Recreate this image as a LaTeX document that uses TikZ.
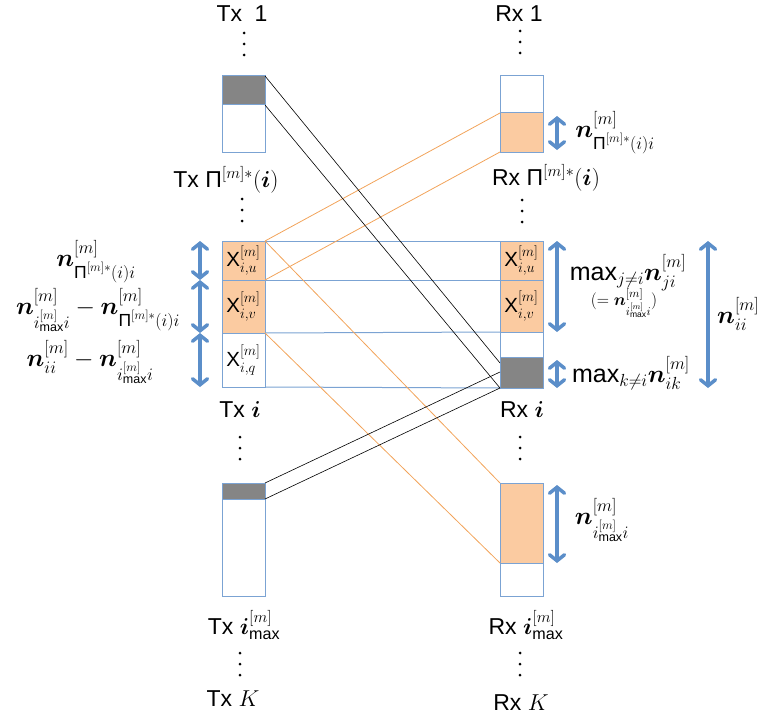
\RequirePackage{fix-cm}
\documentclass[tikz,border=0pt]{standalone}
\usepackage{amsmath,bm}
\usepackage{fontspec}
\setmainfont{Liberation Sans}
\usetikzlibrary{arrows.meta}
\definecolor{bbord}{HTML}{7BA3D3}
\definecolor{barrow}{HTML}{5B8EC9}
\definecolor{peach}{HTML}{FBCBA1}
\definecolor{oline}{HTML}{F2A35A}
\definecolor{gblk}{HTML}{858585}
\tikzset{
  seg/.style={draw=bbord, line width=1pt, inner sep=0pt, outer sep=0pt,
    minimum width=43pt, anchor=north west},
  link/.style={draw=black, line width=0.6pt},
  olink/.style={draw=oline, line width=0.8pt},
  hline/.style={draw=bbord, line width=1pt},
  meas/.style={draw=barrow, line width=3.5pt,
    {Straight Barb[length=6pt,width=15pt,line cap=round]}-{Straight Barb[length=6pt,width=15pt,line cap=round]}},
  lbl/.style={inner sep=0pt, font=\fontsize{23}{26}\selectfont},
  mlbl/.style={inner sep=0pt, font=\fontsize{25}{28}\selectfont},
  small/.style={inner sep=0pt, font=\fontsize{17}{19}\selectfont},
  cell/.style={inner sep=0pt, font=\fontsize{20.5}{22}\selectfont}
}
\newcommand{\vd}[2]{\foreach \dy in {0,11,22}{\fill (#1,#2+\dy) circle (1.5pt);}}
\begin{document}
\begin{tikzpicture}[x=1pt,y=-1pt]
\useasboundingbox (0,0) rectangle (764,717);
% ---- Tx column ----
\node[seg, fill=gblk, minimum height=29pt] (tpg) at (222,76) {};
\node[seg, fill=white, minimum height=47pt] (tpw) at (222,105) {};
\node[seg, fill=peach, minimum height=39pt] (tiu) at (222,241) {};
\node[seg, fill=peach, minimum height=53pt] (tiv) at (222,280) {};
\node[seg, fill=white, minimum height=54pt] (tiq) at (222,333) {};
\node[seg, fill=gblk, minimum height=16pt] (tmg) at (222,483) {};
\node[seg, fill=white, minimum height=97pt] (tmw) at (222,499) {};
% ---- Rx column ----
\node[seg, fill=white, minimum height=37pt] (rpw) at (500,76) {};
\node[seg, fill=peach, minimum height=39pt] (rpo) at (500,113) {};
\node[seg, fill=peach, minimum height=39pt] (riu) at (500,241) {};
\node[seg, fill=peach, minimum height=52pt] (riv) at (500,280) {};
\node[seg, fill=white, minimum height=25pt] (riw) at (500,332) {};
\node[seg, fill=gblk, minimum height=31pt] (rig) at (500,357) {};
\node[seg, fill=peach, minimum height=80pt] (rmo) at (500,483) {};
\node[seg, fill=white, minimum height=33pt] (rmw) at (500,563) {};
% ---- horizontal frame lines ----
\draw[hline] (tiu.north east) -- (riu.north west);
\draw[hline] (tiu.south east) -- (riu.south west);
\draw[hline] (tiv.south east) -- (riv.south west);
\draw[hline] (tiq.south east) -- (rig.south west);
% ---- orange links ----
\draw[olink] (tiu.north east) -- (rpo.north west);
\draw[olink] (tiu.south east) -- (rpo.south west);
\draw[olink] (tiu.north east) -- (rmo.north west);
\draw[olink] (tiv.south east) -- (rmo.south west);
% ---- black links ----
\draw[link] (tpg.north east) -- ([yshift=-6pt]rig.north west);
\draw[link] (tpg.south east) -- (rig.south west);
\draw[link] (tmg.north east) -- ([yshift=-15pt]rig.north west);
\draw[link] (tmg.south east) -- (rig.south west);
% ---- cell labels ----
\node[cell] (xtu) at (tiu.center) {$\text{X}^{[m]}_{i,u}$};
\node[cell] (xtv) at (tiv.center) {$\text{X}^{[m]}_{i,v}$};
\node[cell] (xtq) at (tiq.center) {$\text{X}^{[m]}_{i,q}$};
\node[cell] (xru) at (riu.center) {$\text{X}^{[m]}_{i,u}$};
\node[cell] (xrv) at (riv.center) {$\text{X}^{[m]}_{i,v}$};
% ---- measurement arrows ----
\draw[meas] ([xshift=-22pt]tiu.north west) -- ([xshift=-22pt]tiu.south west);
\draw[meas] ([xshift=-22pt]tiv.north west) -- ([xshift=-22pt]tiv.south west);
\draw[meas] ([xshift=-22pt]tiq.north west) -- ([xshift=-22pt]tiq.south west);
\draw[meas] ([xshift=14pt,yshift=-3pt]rpo.north east) -- ([xshift=14pt,yshift=2pt]rpo.south east);
\draw[meas] ([xshift=14pt]riu.north east) -- ([xshift=14pt]riv.south east);
\draw[meas] ([xshift=14pt,yshift=-3pt]rig.north east) -- ([xshift=14pt]rig.south east);
\draw[meas] ([xshift=165pt]riu.north east) -- ([xshift=165pt]rig.south east);
\draw[meas] ([xshift=14pt,yshift=-2pt]rmo.north east) -- ([xshift=14pt]rmo.south east);
% ---- column labels ----
\node[lbl] (ltx1) at (242,14) {Tx\hspace{0.55em}1};
\node[lbl] (lrx1) at (519,14) {Rx 1};
\node[lbl] (ltxp) at (226,180) {Tx Π$^{[m]*}(\bm{i})$};
\node[lbl] (lrxp) at (546,178) {Rx Π$^{[m]*}(\bm{i})$};
\node[lbl] (ltxi) at (240,410) {Tx $\bm{i}$};
\node[lbl] (lrxi) at (522,410) {Rx $\bm{i}$};
\node[lbl] (ltxm) at (244,625) {Tx $\bm{i}^{[m]}_{\text{max}}$};
\node[lbl] (lrxm) at (526,625) {Rx $\bm{i}^{[m]}_{\text{max}}$};
\node[lbl] (ltxk) at (233,699) {Tx $K$};
\node[lbl] (lrxk) at (521,703) {Rx $K$};
\vd{244}{33}
\vd{520}{31}
\vd{242}{199}
\vd{522}{200}
\vd{240}{437}
\vd{520}{437}
\vd{240}{653}
\vd{520}{653}
% ---- measure labels, left ----
\node[mlbl] (ml1) at (96,262) {$\bm{n}^{[m]}_{\text{Π}^{[m]*}(i)i}$};
\node[mlbl] (ml2) at (98,310) {$\bm{n}^{[m]}_{i^{[m]}_{\text{max}}i}-\bm{n}^{[m]}_{\text{Π}^{[m]*}(i)i}$};
\node[mlbl] (ml3) at (90,362) {$\bm{n}^{[m]}_{ii}-\bm{n}^{[m]}_{i^{[m]}_{\text{max}}i}$};
% ---- measure labels, right ----
\node[mlbl] (mr1) at (615,133) {$\bm{n}^{[m]}_{\text{Π}^{[m]*}(i)i}$};
\node[mlbl] (mr2) at (628,273) {max$_{j\neq i}\bm{n}^{[m]}_{ji}$};
\node[small] (mr3) at (624,303) {$(=\bm{n}^{[m]}_{i^{[m]}_{\text{max}}i})$};
\node[mlbl] (mr4) at (631,373) {max$_{k\neq i}\bm{n}^{[m]}_{ik}$};
\node[mlbl, anchor=west] (mr5) at (717,314) {$\bm{n}^{[m]}_{ii}$};
\node[mlbl] (mr6) at (602,520) {$\bm{n}^{[m]}_{i^{[m]}_{\text{max}}i}$};
\end{tikzpicture}
\end{document}
